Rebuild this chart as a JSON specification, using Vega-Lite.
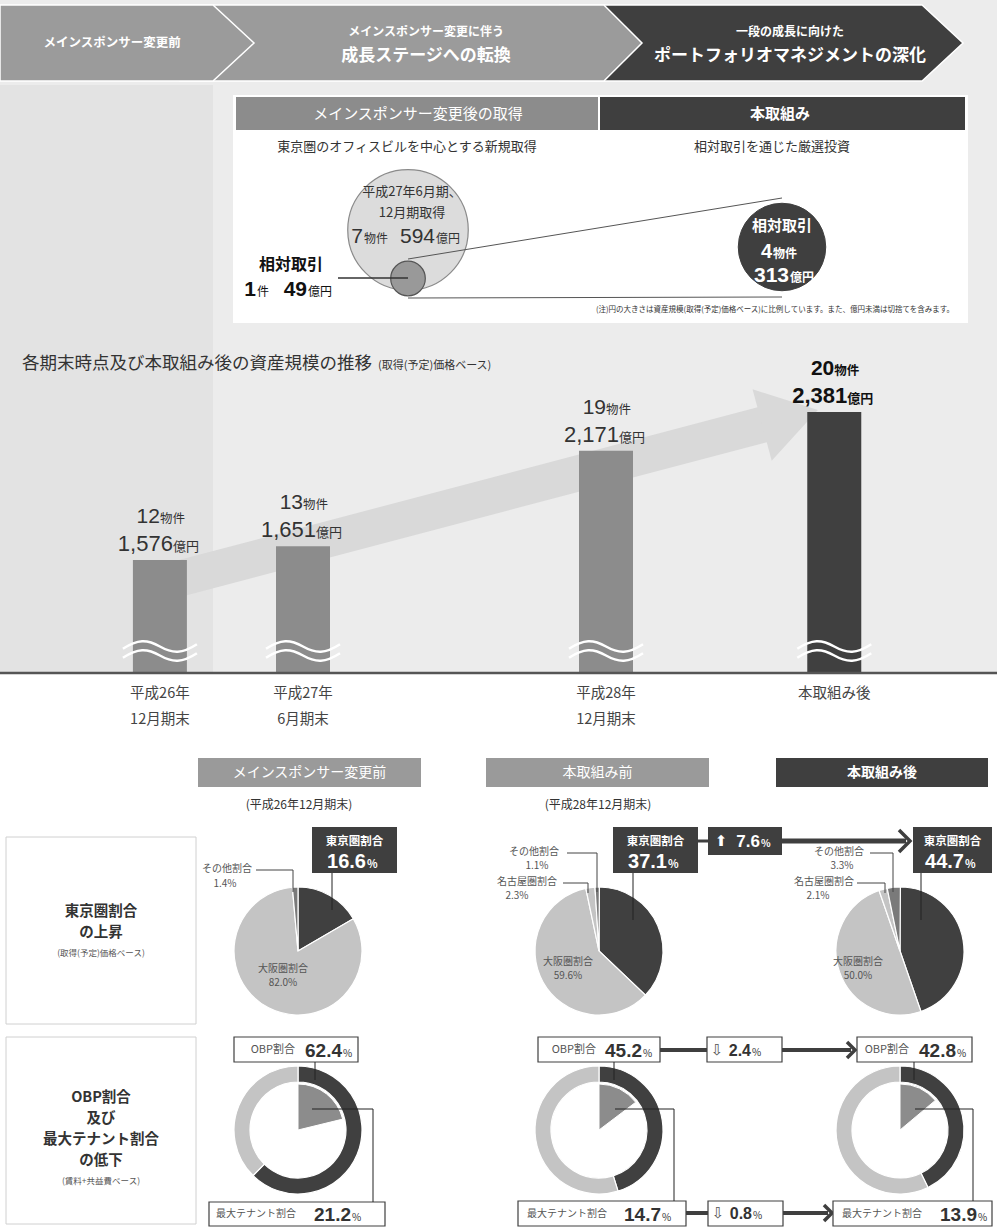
{
"$schema":"https://vega.github.io/schema/vega-lite/v6.json",
"width":997,"height":1227,"padding":0,"autosize":{"type":"none"},
"background":"#ffffff",
"config":{"view":{"stroke":null},"axis":{"disable":true},"legend":{"disable":true},"text":{"font":"Noto Sans CJK JP"}},
"datasets":{
 "bars":[
  {"period":"平成26年12月期末","label1":"平成26年","label2":"12月期末","months":0,"count":12,"value":1576,"kind":"実績"},
  {"period":"平成27年6月期末","label1":"平成27年","label2":"6月期末","months":6,"count":13,"value":1651,"kind":"実績"},
  {"period":"平成28年12月期末","label1":"平成28年","label2":"12月期末","months":24,"count":19,"value":2171,"kind":"実績"},
  {"period":"本取組み後","label1":"本取組み後","label2":"","months":28,"count":20,"value":2381,"kind":"本取組み後"}
 ],
 "acq":[
  {"deal":"平成27年6月期・12月期取得","count":7,"value":594},
  {"deal":"相対取引(取得済)","count":1,"value":49},
  {"deal":"相対取引(本取組み)","count":4,"value":313}
 ],
 "pies":[
  {"stage":"メインスポンサー変更前","region":"東京圏","share":0.166,"order":1},
  {"stage":"メインスポンサー変更前","region":"大阪圏","share":0.820,"order":2},
  {"stage":"メインスポンサー変更前","region":"その他","share":0.014,"order":4},
  {"stage":"本取組み前","region":"東京圏","share":0.371,"order":1},
  {"stage":"本取組み前","region":"大阪圏","share":0.596,"order":2},
  {"stage":"本取組み前","region":"名古屋圏","share":0.023,"order":3},
  {"stage":"本取組み前","region":"その他","share":0.011,"order":4},
  {"stage":"本取組み後","region":"東京圏","share":0.447,"order":1},
  {"stage":"本取組み後","region":"大阪圏","share":0.500,"order":2},
  {"stage":"本取組み後","region":"名古屋圏","share":0.021,"order":3},
  {"stage":"本取組み後","region":"その他","share":0.033,"order":4}
 ],
 "obp":[
  {"stage":"メインスポンサー変更前","part":"OBP","share":0.624,"order":1},
  {"stage":"メインスポンサー変更前","part":"OBP以外","share":0.376,"order":2},
  {"stage":"本取組み前","part":"OBP","share":0.452,"order":1},
  {"stage":"本取組み前","part":"OBP以外","share":0.548,"order":2},
  {"stage":"本取組み後","part":"OBP","share":0.428,"order":1},
  {"stage":"本取組み後","part":"OBP以外","share":0.572,"order":2}
 ],
 "tenant":[
  {"stage":"メインスポンサー変更前","share":0.212},
  {"stage":"本取組み前","share":0.147},
  {"stage":"本取組み後","share":0.139}
 ]
},
"data":{"values":[{}]},
"resolve":{"scale":{"x":"independent","y":"independent","color":"independent","size":"independent","theta":"independent"}},
"layer":[
 {"layer":[
  {"mark":{"type":"rect","fill":"#ececec"},"encoding":{"x":{"datum":0,"type":"quantitative","scale":{"domain":[0,997],"nice":false,"zero":false},"axis":null},"x2":{"datum":997},"y":{"datum":0,"type":"quantitative","scale":{"domain":[0,1227],"reverse":true,"nice":false,"zero":false},"axis":null},"y2":{"datum":673}}},
  {"mark":{"type":"rect","fill":"#e3e3e3"},"encoding":{"x":{"datum":0},"x2":{"datum":213},"y":{"datum":85},"y2":{"datum":673}}},
  {"mark":{"type":"point","shape":"M -1 -0.1886 L 0.797 -0.1886 L 1 0 L 0.797 0.1886 L -1 0.1886 Z","size":162409,"filled":true,"fill":"#3f3f3f","stroke":"#ffffff","strokeWidth":1.5,"opacity":1},"encoding":{"x":{"datum":761.5},"y":{"datum":43}}},
  {"mark":{"type":"point","shape":"M -1 -0.1645 L 0.835 -0.1645 L 1 0 L 0.835 0.1645 L -1 0.1645 Z","size":213444,"filled":true,"fill":"#9b9b9b","stroke":"#ffffff","strokeWidth":1.5,"opacity":1},"encoding":{"x":{"datum":411},"y":{"datum":43}}},
  {"mark":{"type":"point","shape":"M -1 -0.2992 L 0.677 -0.2992 L 1 0 L 0.677 0.2992 L -1 0.2992 Z","size":64516,"filled":true,"fill":"#9b9b9b","stroke":"#ffffff","strokeWidth":1.5,"opacity":1},"encoding":{"x":{"datum":127},"y":{"datum":43}}},
  {"mark":{"type":"text","fontSize":12.5,"fontWeight":"bold","fill":"#ffffff"},"encoding":{"x":{"datum":112},"y":{"datum":43},"text":{"value":"メインスポンサー変更前"}}},
  {"mark":{"type":"text","fontSize":12,"fontWeight":"bold","fill":"#ffffff"},"encoding":{"x":{"datum":426},"y":{"datum":32},"text":{"value":"メインスポンサー変更に伴う"}}},
  {"mark":{"type":"text","fontSize":17,"fontWeight":"bold","fill":"#ffffff"},"encoding":{"x":{"datum":426},"y":{"datum":56},"text":{"value":"成長ステージへの転換"}}},
  {"mark":{"type":"text","fontSize":12,"fontWeight":"bold","fill":"#ffffff"},"encoding":{"x":{"datum":790},"y":{"datum":32},"text":{"value":"一段の成長に向けた"}}},
  {"mark":{"type":"text","fontSize":17,"fontWeight":"bold","fill":"#ffffff"},"encoding":{"x":{"datum":790},"y":{"datum":56},"text":{"value":"ポートフォリオマネジメントの深化"}}},
  {"mark":{"type":"rect","fill":"#ffffff"},"encoding":{"x":{"datum":233},"x2":{"datum":968},"y":{"datum":95},"y2":{"datum":323}}},
  {"mark":{"type":"rect","fill":"#8c8c8c"},"encoding":{"x":{"datum":236},"x2":{"datum":598},"y":{"datum":97},"y2":{"datum":130}}},
  {"mark":{"type":"rect","fill":"#3f3f3f"},"encoding":{"x":{"datum":600},"x2":{"datum":965},"y":{"datum":97},"y2":{"datum":130}}},
  {"mark":{"type":"text","fontSize":15,"fill":"#ffffff"},"encoding":{"x":{"datum":418},"y":{"datum":114},"text":{"value":"メインスポンサー変更後の取得"}}},
  {"mark":{"type":"text","fontSize":15,"fontWeight":"bold","fill":"#ffffff"},"encoding":{"x":{"datum":780},"y":{"datum":114},"text":{"value":"本取組み"}}},
  {"mark":{"type":"text","fontSize":13,"fill":"#333333"},"encoding":{"x":{"datum":407},"y":{"datum":147},"text":{"value":"東京圏のオフィスビルを中心とする新規取得"}}},
  {"mark":{"type":"text","fontSize":13,"fill":"#333333"},"encoding":{"x":{"datum":772},"y":{"datum":147},"text":{"value":"相対取引を通じた厳選投資"}}},
  {"data":{"name":"acq"},"transform":[{"filter":"datum.deal === '平成27年6月期・12月期取得'"}],"mark":{"type":"point","shape":"circle","filled":true,"fill":"#dcdcdc","stroke":"#8a8a8a","strokeWidth":1.2,"opacity":1},"encoding":{"x":{"datum":408},"y":{"datum":230},"size":{"field":"value","type":"quantitative","scale":{"domain":[0,594],"range":[0,14527]},"legend":null}}},
  {"mark":{"type":"rule","stroke":"#555555","strokeWidth":1},"encoding":{"x":{"datum":408},"x2":{"datum":782},"y":{"datum":259},"y2":{"datum":198}}},
  {"mark":{"type":"rule","stroke":"#555555","strokeWidth":1},"encoding":{"x":{"datum":408},"x2":{"datum":782},"y":{"datum":298},"y2":{"datum":297}}},
  {"data":{"name":"acq"},"transform":[{"filter":"datum.deal === '相対取引(取得済)'"}],"mark":{"type":"point","shape":"circle","filled":true,"fill":"#999999","stroke":"#555555","strokeWidth":1.2,"opacity":1},"encoding":{"x":{"datum":408},"y":{"datum":278.5},"size":{"field":"value","type":"quantitative","scale":{"domain":[0,594],"range":[0,14527]},"legend":null}}},
  {"data":{"name":"acq"},"transform":[{"filter":"datum.deal === '相対取引(本取組み)'"}],"mark":{"type":"point","shape":"circle","filled":true,"fill":"#3f3f3f","stroke":"#3f3f3f","strokeWidth":1,"opacity":1},"encoding":{"x":{"datum":782},"y":{"datum":247},"size":{"field":"value","type":"quantitative","scale":{"domain":[0,594],"range":[0,14527]},"legend":null}}},
  {"mark":{"type":"rule","stroke":"#333333","strokeWidth":1.5},"encoding":{"x":{"datum":338},"x2":{"datum":408},"y":{"datum":278},"y2":{"datum":278}}},
  {"mark":{"type":"text","fontSize":13,"fill":"#333333"},"encoding":{"x":{"datum":412},"y":{"datum":192},"text":{"value":"平成27年6月期、"}}},
  {"mark":{"type":"text","fontSize":13,"fill":"#333333"},"encoding":{"x":{"datum":412},"y":{"datum":213},"text":{"value":"12月期取得"}}},
  {"mark":{"type":"text","fontSize":21,"fill":"#333333","align":"right","baseline":"alphabetic","font":"Liberation Sans, Noto Sans CJK JP"},"encoding":{"x":{"datum":363},"y":{"datum":243},"text":{"value":"7"}}},
  {"mark":{"type":"text","fontSize":12,"fill":"#333333","align":"left","baseline":"alphabetic"},"encoding":{"x":{"datum":364},"y":{"datum":243},"text":{"value":"物件"}}},
  {"mark":{"type":"text","fontSize":21,"fill":"#333333","align":"right","baseline":"alphabetic","font":"Liberation Sans, Noto Sans CJK JP"},"encoding":{"x":{"datum":435},"y":{"datum":243},"text":{"value":"594"}}},
  {"mark":{"type":"text","fontSize":12,"fill":"#333333","align":"left","baseline":"alphabetic"},"encoding":{"x":{"datum":436},"y":{"datum":243},"text":{"value":"億円"}}},
  {"mark":{"type":"text","fontSize":16,"fontWeight":"bold","fill":"#111111"},"encoding":{"x":{"datum":291},"y":{"datum":265},"text":{"value":"相対取引"}}},
  {"mark":{"type":"text","fontSize":21,"fontWeight":"bold","fill":"#111111","align":"right","baseline":"alphabetic","font":"Liberation Sans, Noto Sans CJK JP"},"encoding":{"x":{"datum":256},"y":{"datum":296},"text":{"value":"1"}}},
  {"mark":{"type":"text","fontSize":12,"fill":"#111111","align":"left","baseline":"alphabetic"},"encoding":{"x":{"datum":257},"y":{"datum":296},"text":{"value":"件"}}},
  {"mark":{"type":"text","fontSize":21,"fontWeight":"bold","fill":"#111111","align":"right","baseline":"alphabetic","font":"Liberation Sans, Noto Sans CJK JP"},"encoding":{"x":{"datum":307},"y":{"datum":296},"text":{"value":"49"}}},
  {"mark":{"type":"text","fontSize":12,"fill":"#111111","align":"left","baseline":"alphabetic"},"encoding":{"x":{"datum":308},"y":{"datum":296},"text":{"value":"億円"}}},
  {"mark":{"type":"text","fontSize":15,"fontWeight":"bold","fill":"#ffffff"},"encoding":{"x":{"datum":782},"y":{"datum":226},"text":{"value":"相対取引"}}},
  {"mark":{"type":"text","fontSize":20,"fontWeight":"bold","fill":"#ffffff","align":"right","baseline":"alphabetic","font":"Liberation Sans, Noto Sans CJK JP"},"encoding":{"x":{"datum":772},"y":{"datum":258},"text":{"value":"4"}}},
  {"mark":{"type":"text","fontSize":12,"fontWeight":"bold","fill":"#ffffff","align":"left","baseline":"alphabetic"},"encoding":{"x":{"datum":773},"y":{"datum":258},"text":{"value":"物件"}}},
  {"mark":{"type":"text","fontSize":21,"fontWeight":"bold","fill":"#ffffff","align":"right","baseline":"alphabetic","font":"Liberation Sans, Noto Sans CJK JP"},"encoding":{"x":{"datum":789},"y":{"datum":282},"text":{"value":"313"}}},
  {"mark":{"type":"text","fontSize":12,"fontWeight":"bold","fill":"#ffffff","align":"left","baseline":"alphabetic"},"encoding":{"x":{"datum":790},"y":{"datum":282},"text":{"value":"億円"}}},
  {"mark":{"type":"text","fontSize":7.5,"fill":"#333333","align":"right"},"encoding":{"x":{"datum":954},"y":{"datum":310},"text":{"value":"(注)円の大きさは資産規模(取得(予定)価格ベース)に比例しています。また、億円未満は切捨てを含みます。"}}},
  {"mark":{"type":"text","fontSize":17.5,"fill":"#333333","align":"left"},"encoding":{"x":{"datum":22},"y":{"datum":364},"text":{"value":"各期末時点及び本取組み後の資産規模の推移"}}},
  {"mark":{"type":"text","fontSize":11,"fill":"#333333","align":"left"},"encoding":{"x":{"datum":378},"y":{"datum":366},"text":{"value":"(取得(予定)価格ベース)"}}},
  {"mark":{"type":"rule","stroke":"#d9d9d9","strokeWidth":36},"encoding":{"x":{"datum":170},"x2":{"datum":765},"y":{"datum":581},"y2":{"datum":424}}},
  {"mark":{"type":"point","shape":"M -0.78 -1 L 0.78 0 L -0.78 1 Z","size":5476,"angle":-15,"filled":true,"fill":"#d9d9d9","strokeWidth":0,"opacity":1},"encoding":{"x":{"datum":790},"y":{"datum":417.5}}}
 ]},
 {"data":{"name":"bars"},"layer":[
  {"mark":{"type":"bar","width":54},"encoding":{
    "x":{"field":"months","type":"quantitative","scale":{"domain":[0,6,24,28],"range":[155,303,606,846],"nice":false,"zero":false},"axis":null},
    "y":{"field":"value","type":"quantitative","scale":{"domain":[-2050.5,4621.6],"nice":false,"zero":false},"axis":null},
    "y2":{"datum":962},
    "color":{"field":"kind","type":"nominal","scale":{"domain":["実績","本取組み後"],"range":["#8c8c8c","#404040"]},"legend":null}}},
  {"mark":{"type":"point","shape":"M -1 0.06 C -0.6 -0.2 -0.35 -0.2 0 0 C 0.35 0.2 0.6 0.2 1 -0.06","size":5476,"filled":false,"stroke":"#ffffff","strokeWidth":2.5,"opacity":1},"encoding":{"x":{"field":"months","type":"quantitative"},"y":{"datum":1106}}},
  {"mark":{"type":"point","shape":"M -1 0.06 C -0.6 -0.2 -0.35 -0.2 0 0 C 0.35 0.2 0.6 0.2 1 -0.06","size":5476,"filled":false,"stroke":"#ffffff","strokeWidth":2.5,"opacity":1},"encoding":{"x":{"field":"months","type":"quantitative"},"y":{"datum":1057}}},
  {"transform":[{"filter":"datum.kind === '実績'"}],"mark":{"type":"text","align":"right","baseline":"alphabetic","dx":0,"dy":-37,"fontSize":21,"fill":"#333333","font":"Liberation Sans, Noto Sans CJK JP"},"encoding":{"x":{"field":"months","type":"quantitative"},"y":{"field":"value","type":"quantitative"},"text":{"field":"count","type":"quantitative"}}},
  {"transform":[{"filter":"datum.kind === '実績'"}],"mark":{"type":"text","align":"left","baseline":"alphabetic","dx":0,"dy":-37,"fontSize":12.5,"fill":"#333333"},"encoding":{"x":{"field":"months","type":"quantitative"},"y":{"field":"value","type":"quantitative"},"text":{"value":"物件"}}},
  {"transform":[{"filter":"datum.kind === '実績'"}],"mark":{"type":"text","align":"right","baseline":"alphabetic","dx":13,"dy":-9,"fontSize":22,"fill":"#333333","font":"Liberation Sans, Noto Sans CJK JP"},"encoding":{"x":{"field":"months","type":"quantitative"},"y":{"field":"value","type":"quantitative"},"text":{"field":"value","type":"quantitative","format":","}}},
  {"transform":[{"filter":"datum.kind === '実績'"}],"mark":{"type":"text","align":"left","baseline":"alphabetic","dx":13,"dy":-9,"fontSize":13,"fill":"#333333"},"encoding":{"x":{"field":"months","type":"quantitative"},"y":{"field":"value","type":"quantitative"},"text":{"value":"億円"}}},
  {"transform":[{"filter":"datum.kind === '本取組み後'"}],"mark":{"type":"text","align":"right","baseline":"alphabetic","dx":0,"dy":-37,"fontSize":21,"fontWeight":"bold","fill":"#111111","font":"Liberation Sans, Noto Sans CJK JP"},"encoding":{"x":{"field":"months","type":"quantitative"},"y":{"field":"value","type":"quantitative"},"text":{"field":"count","type":"quantitative"}}},
  {"transform":[{"filter":"datum.kind === '本取組み後'"}],"mark":{"type":"text","align":"left","baseline":"alphabetic","dx":0,"dy":-37,"fontSize":12.5,"fontWeight":"bold","fill":"#111111"},"encoding":{"x":{"field":"months","type":"quantitative"},"y":{"field":"value","type":"quantitative"},"text":{"value":"物件"}}},
  {"transform":[{"filter":"datum.kind === '本取組み後'"}],"mark":{"type":"text","align":"right","baseline":"alphabetic","dx":13,"dy":-9,"fontSize":22,"fontWeight":"bold","fill":"#111111","font":"Liberation Sans, Noto Sans CJK JP"},"encoding":{"x":{"field":"months","type":"quantitative"},"y":{"field":"value","type":"quantitative"},"text":{"field":"value","type":"quantitative","format":","}}},
  {"transform":[{"filter":"datum.kind === '本取組み後'"}],"mark":{"type":"text","align":"left","baseline":"alphabetic","dx":13,"dy":-9,"fontSize":13,"fontWeight":"bold","fill":"#111111"},"encoding":{"x":{"field":"months","type":"quantitative"},"y":{"field":"value","type":"quantitative"},"text":{"value":"億円"}}},
  {"mark":{"type":"text","dy":21,"fontSize":14.5,"fill":"#444444"},"encoding":{"x":{"field":"months","type":"quantitative"},"y":{"datum":962},"text":{"field":"label1"}}},
  {"mark":{"type":"text","dy":47,"fontSize":14.5,"fill":"#444444"},"encoding":{"x":{"field":"months","type":"quantitative"},"y":{"datum":962},"text":{"field":"label2"}}}
 ]},
 {"layer":[
  {"data":{"name":"pies"},"transform":[{"stack":"share","groupby":["stage"],"sort":[{"field":"order"}],"as":["t0","t1"]}],"mark":{"type":"arc","radius":64,"stroke":"#ffffff","strokeWidth":1.2},"encoding":{
    "x":{"field":"stage","type":"nominal","scale":{"type":"point","domain":["メインスポンサー変更前","本取組み前","本取組み後"],"range":[298,900],"padding":0},"axis":null},
    "y":{"datum":951,"type":"quantitative","scale":{"domain":[0,1227],"reverse":true,"nice":false,"zero":false},"axis":null},
    "theta":{"field":"t0","type":"quantitative","scale":{"domain":[0,1],"range":[0,6.283185]}},
    "theta2":{"field":"t1"},
    "color":{"field":"region","type":"nominal","scale":{"domain":["東京圏","大阪圏","名古屋圏","その他","OBP","OBP以外"],"range":["#404040","#c4c4c4","#c4c4c4","#7a7a7a","#404040","#c4c4c4"]},"legend":null}}},
  {"data":{"name":"obp"},"transform":[{"stack":"share","groupby":["stage"],"sort":[{"field":"order"}],"as":["t0","t1"]}],"mark":{"type":"arc","radius":64,"innerRadius":48,"stroke":"#ffffff","strokeWidth":1.2},"encoding":{
    "x":{"field":"stage","type":"nominal","scale":{"type":"point","domain":["メインスポンサー変更前","本取組み前","本取組み後"],"range":[298,900],"padding":0},"axis":null},
    "y":{"datum":1130,"type":"quantitative"},
    "theta":{"field":"t0","type":"quantitative","scale":{"domain":[0,1],"range":[0,6.283185]}},
    "theta2":{"field":"t1"},
    "color":{"field":"part","type":"nominal","scale":{"domain":["東京圏","大阪圏","名古屋圏","その他","OBP","OBP以外"],"range":["#404040","#c4c4c4","#c4c4c4","#7a7a7a","#404040","#c4c4c4"]},"legend":null}}},
  {"data":{"name":"tenant"},"transform":[{"stack":"share","groupby":["stage"],"as":["t0","t1"]}],"mark":{"type":"arc","radius":46,"fill":"#8c8c8c","stroke":"#ffffff","strokeWidth":1},"encoding":{
    "x":{"field":"stage","type":"nominal","scale":{"type":"point","domain":["メインスポンサー変更前","本取組み前","本取組み後"],"range":[298,900],"padding":0},"axis":null},
    "y":{"datum":1130,"type":"quantitative"},
    "theta":{"field":"t0","type":"quantitative","scale":{"domain":[0,1],"range":[0,6.283185]}},
    "theta2":{"field":"t1"}}}
 ]},
 {"layer":[
  {"mark":{"type":"rule","stroke":"#555555","strokeWidth":2.5},"encoding":{"x":{"datum":0,"type":"quantitative","scale":{"domain":[0,997],"nice":false,"zero":false},"axis":null},"x2":{"datum":997},"y":{"datum":673,"type":"quantitative","scale":{"domain":[0,1227],"reverse":true,"nice":false,"zero":false},"axis":null},"y2":{"datum":673}}},
  {"mark":{"type":"rect","fill":"#9a9a9a"},"encoding":{"x":{"datum":198},"x2":{"datum":421},"y":{"datum":758},"y2":{"datum":787}}},
  {"mark":{"type":"rect","fill":"#9a9a9a"},"encoding":{"x":{"datum":486},"x2":{"datum":709},"y":{"datum":758},"y2":{"datum":787}}},
  {"mark":{"type":"rect","fill":"#3f3f3f"},"encoding":{"x":{"datum":776},"x2":{"datum":988},"y":{"datum":758},"y2":{"datum":787}}},
  {"mark":{"type":"text","fontSize":14,"fill":"#ffffff"},"encoding":{"x":{"datum":309.5},"y":{"datum":773},"text":{"value":"メインスポンサー変更前"}}},
  {"mark":{"type":"text","fontSize":14,"fill":"#ffffff"},"encoding":{"x":{"datum":597.5},"y":{"datum":773},"text":{"value":"本取組み前"}}},
  {"mark":{"type":"text","fontSize":14,"fontWeight":"bold","fill":"#ffffff"},"encoding":{"x":{"datum":882},"y":{"datum":773},"text":{"value":"本取組み後"}}},
  {"mark":{"type":"text","fontSize":12,"fill":"#333333"},"encoding":{"x":{"datum":299},"y":{"datum":805},"text":{"value":"(平成26年12月期末)"}}},
  {"mark":{"type":"text","fontSize":12,"fill":"#333333"},"encoding":{"x":{"datum":598},"y":{"datum":805},"text":{"value":"(平成28年12月期末)"}}},
  {"mark":{"type":"rect","fill":"#ffffff","stroke":"#d0d0d0","strokeWidth":1},"encoding":{"x":{"datum":6},"x2":{"datum":196},"y":{"datum":837},"y2":{"datum":1024}}},
  {"mark":{"type":"rect","fill":"#ffffff","stroke":"#d0d0d0","strokeWidth":1},"encoding":{"x":{"datum":6},"x2":{"datum":196},"y":{"datum":1037},"y2":{"datum":1224}}},
  {"mark":{"type":"text","fontSize":14.5,"fontWeight":"bold","fill":"#333333"},"encoding":{"x":{"datum":101},"y":{"datum":912},"text":{"value":"東京圏割合"}}},
  {"mark":{"type":"text","fontSize":14.5,"fontWeight":"bold","fill":"#333333"},"encoding":{"x":{"datum":101},"y":{"datum":933},"text":{"value":"の上昇"}}},
  {"mark":{"type":"text","fontSize":8.5,"fill":"#555555"},"encoding":{"x":{"datum":101},"y":{"datum":953},"text":{"value":"(取得(予定)価格ベース)"}}},
  {"mark":{"type":"text","fontSize":14.5,"fontWeight":"bold","fill":"#333333"},"encoding":{"x":{"datum":101},"y":{"datum":1098},"text":{"value":"OBP割合"}}},
  {"mark":{"type":"text","fontSize":14.5,"fontWeight":"bold","fill":"#333333"},"encoding":{"x":{"datum":101},"y":{"datum":1119},"text":{"value":"及び"}}},
  {"mark":{"type":"text","fontSize":14.5,"fontWeight":"bold","fill":"#333333"},"encoding":{"x":{"datum":101},"y":{"datum":1140},"text":{"value":"最大テナント割合"}}},
  {"mark":{"type":"text","fontSize":14.5,"fontWeight":"bold","fill":"#333333"},"encoding":{"x":{"datum":101},"y":{"datum":1161},"text":{"value":"の低下"}}},
  {"mark":{"type":"text","fontSize":8.5,"fill":"#555555"},"encoding":{"x":{"datum":101},"y":{"datum":1181},"text":{"value":"(賃料+共益費ベース)"}}},
  {"mark":{"type":"rect","fill":"#3f3f3f"},"encoding":{"x":{"datum":312},"x2":{"datum":397},"y":{"datum":827},"y2":{"datum":873}}},
  {"mark":{"type":"rect","fill":"#3f3f3f"},"encoding":{"x":{"datum":613},"x2":{"datum":698},"y":{"datum":827},"y2":{"datum":873}}},
  {"mark":{"type":"rect","fill":"#3f3f3f"},"encoding":{"x":{"datum":913},"x2":{"datum":992},"y":{"datum":827},"y2":{"datum":873}}},
  {"mark":{"type":"text","fontSize":11.5,"fontWeight":"bold","fill":"#ffffff"},"encoding":{"x":{"datum":354.5},"y":{"datum":842},"text":{"value":"東京圏割合"}}},
  {"mark":{"type":"text","fontSize":11.5,"fontWeight":"bold","fill":"#ffffff"},"encoding":{"x":{"datum":655.5},"y":{"datum":842},"text":{"value":"東京圏割合"}}},
  {"mark":{"type":"text","fontSize":11.5,"fontWeight":"bold","fill":"#ffffff"},"encoding":{"x":{"datum":952.5},"y":{"datum":842},"text":{"value":"東京圏割合"}}},
  {"mark":{"type":"text","fontSize":20,"fontWeight":"bold","fill":"#ffffff","align":"right","baseline":"alphabetic","font":"Liberation Sans, Noto Sans CJK JP"},"encoding":{"x":{"datum":366},"y":{"datum":868},"text":{"value":"16.6"}}},
  {"mark":{"type":"text","fontSize":11,"fontWeight":"bold","fill":"#ffffff","align":"left","baseline":"alphabetic"},"encoding":{"x":{"datum":367},"y":{"datum":868},"text":{"value":"%"}}},
  {"mark":{"type":"text","fontSize":20,"fontWeight":"bold","fill":"#ffffff","align":"right","baseline":"alphabetic","font":"Liberation Sans, Noto Sans CJK JP"},"encoding":{"x":{"datum":667},"y":{"datum":868},"text":{"value":"37.1"}}},
  {"mark":{"type":"text","fontSize":11,"fontWeight":"bold","fill":"#ffffff","align":"left","baseline":"alphabetic"},"encoding":{"x":{"datum":668},"y":{"datum":868},"text":{"value":"%"}}},
  {"mark":{"type":"text","fontSize":20,"fontWeight":"bold","fill":"#ffffff","align":"right","baseline":"alphabetic","font":"Liberation Sans, Noto Sans CJK JP"},"encoding":{"x":{"datum":964},"y":{"datum":868},"text":{"value":"44.7"}}},
  {"mark":{"type":"text","fontSize":11,"fontWeight":"bold","fill":"#ffffff","align":"left","baseline":"alphabetic"},"encoding":{"x":{"datum":965},"y":{"datum":868},"text":{"value":"%"}}},
  {"mark":{"type":"rule","stroke":"#222222","strokeWidth":1},"encoding":{"x":{"datum":332},"x2":{"datum":332},"y":{"datum":873},"y2":{"datum":910}}},
  {"mark":{"type":"rule","stroke":"#222222","strokeWidth":1},"encoding":{"x":{"datum":633},"x2":{"datum":633},"y":{"datum":873},"y2":{"datum":920}}},
  {"mark":{"type":"rule","stroke":"#222222","strokeWidth":1},"encoding":{"x":{"datum":921},"x2":{"datum":921},"y":{"datum":873},"y2":{"datum":920}}},
  {"mark":{"type":"text","fontSize":10,"fill":"#555555"},"encoding":{"x":{"datum":227},"y":{"datum":869},"text":{"value":"その他割合"}}},
  {"mark":{"type":"text","fontSize":10,"fill":"#555555"},"encoding":{"x":{"datum":225},"y":{"datum":884},"text":{"value":"1.4%"}}},
  {"mark":{"type":"rule","stroke":"#444444","strokeWidth":1},"encoding":{"x":{"datum":256},"x2":{"datum":293},"y":{"datum":870},"y2":{"datum":870}}},
  {"mark":{"type":"rule","stroke":"#444444","strokeWidth":1},"encoding":{"x":{"datum":293},"x2":{"datum":293},"y":{"datum":870},"y2":{"datum":892}}},
  {"mark":{"type":"text","fontSize":10,"fill":"#555555"},"encoding":{"x":{"datum":534},"y":{"datum":852},"text":{"value":"その他割合"}}},
  {"mark":{"type":"text","fontSize":10,"fill":"#555555"},"encoding":{"x":{"datum":537},"y":{"datum":866},"text":{"value":"1.1%"}}},
  {"mark":{"type":"rule","stroke":"#444444","strokeWidth":1},"encoding":{"x":{"datum":567},"x2":{"datum":597},"y":{"datum":853},"y2":{"datum":853}}},
  {"mark":{"type":"rule","stroke":"#444444","strokeWidth":1},"encoding":{"x":{"datum":597},"x2":{"datum":597},"y":{"datum":853},"y2":{"datum":892}}},
  {"mark":{"type":"text","fontSize":10,"fill":"#555555"},"encoding":{"x":{"datum":527},"y":{"datum":882},"text":{"value":"名古屋圏割合"}}},
  {"mark":{"type":"text","fontSize":10,"fill":"#555555"},"encoding":{"x":{"datum":517},"y":{"datum":896},"text":{"value":"2.3%"}}},
  {"mark":{"type":"rule","stroke":"#444444","strokeWidth":1},"encoding":{"x":{"datum":563},"x2":{"datum":588},"y":{"datum":883},"y2":{"datum":883}}},
  {"mark":{"type":"rule","stroke":"#444444","strokeWidth":1},"encoding":{"x":{"datum":588},"x2":{"datum":588},"y":{"datum":883},"y2":{"datum":893}}},
  {"mark":{"type":"text","fontSize":10,"fill":"#555555"},"encoding":{"x":{"datum":839},"y":{"datum":852},"text":{"value":"その他割合"}}},
  {"mark":{"type":"text","fontSize":10,"fill":"#555555"},"encoding":{"x":{"datum":842},"y":{"datum":866},"text":{"value":"3.3%"}}},
  {"mark":{"type":"rule","stroke":"#444444","strokeWidth":1},"encoding":{"x":{"datum":870},"x2":{"datum":893},"y":{"datum":853},"y2":{"datum":853}}},
  {"mark":{"type":"rule","stroke":"#444444","strokeWidth":1},"encoding":{"x":{"datum":893},"x2":{"datum":893},"y":{"datum":853},"y2":{"datum":892}}},
  {"mark":{"type":"text","fontSize":10,"fill":"#555555"},"encoding":{"x":{"datum":824},"y":{"datum":882},"text":{"value":"名古屋圏割合"}}},
  {"mark":{"type":"text","fontSize":10,"fill":"#555555"},"encoding":{"x":{"datum":818},"y":{"datum":896},"text":{"value":"2.1%"}}},
  {"mark":{"type":"rule","stroke":"#444444","strokeWidth":1},"encoding":{"x":{"datum":857},"x2":{"datum":885},"y":{"datum":883},"y2":{"datum":883}}},
  {"mark":{"type":"rule","stroke":"#444444","strokeWidth":1},"encoding":{"x":{"datum":885},"x2":{"datum":885},"y":{"datum":883},"y2":{"datum":893}}},
  {"mark":{"type":"text","fontSize":10,"fill":"#555555"},"encoding":{"x":{"datum":283},"y":{"datum":969},"text":{"value":"大阪圏割合"}}},
  {"mark":{"type":"text","fontSize":10,"fill":"#555555"},"encoding":{"x":{"datum":283},"y":{"datum":983},"text":{"value":"82.0%"}}},
  {"mark":{"type":"text","fontSize":10,"fill":"#555555"},"encoding":{"x":{"datum":568},"y":{"datum":962},"text":{"value":"大阪圏割合"}}},
  {"mark":{"type":"text","fontSize":10,"fill":"#555555"},"encoding":{"x":{"datum":568},"y":{"datum":976},"text":{"value":"59.6%"}}},
  {"mark":{"type":"text","fontSize":10,"fill":"#555555"},"encoding":{"x":{"datum":858},"y":{"datum":962},"text":{"value":"大阪圏割合"}}},
  {"mark":{"type":"text","fontSize":10,"fill":"#555555"},"encoding":{"x":{"datum":858},"y":{"datum":976},"text":{"value":"50.0%"}}},
  {"mark":{"type":"rule","stroke":"#3f3f3f","strokeWidth":3},"encoding":{"x":{"datum":698},"x2":{"datum":708},"y":{"datum":841},"y2":{"datum":841}}},
  {"mark":{"type":"rect","fill":"#3f3f3f"},"encoding":{"x":{"datum":708},"x2":{"datum":782},"y":{"datum":827},"y2":{"datum":855}}},
  {"mark":{"type":"text","fontSize":15,"fill":"#ffffff","font":"DejaVu Sans"},"encoding":{"x":{"datum":721},"y":{"datum":841},"text":{"value":"⬆"}}},
  {"mark":{"type":"text","fontSize":17,"fontWeight":"bold","fill":"#ffffff","align":"right","baseline":"alphabetic","font":"Liberation Sans, Noto Sans CJK JP"},"encoding":{"x":{"datum":760},"y":{"datum":847},"text":{"value":"7.6"}}},
  {"mark":{"type":"text","fontSize":10,"fontWeight":"bold","fill":"#ffffff","align":"left","baseline":"alphabetic"},"encoding":{"x":{"datum":761},"y":{"datum":847},"text":{"value":"%"}}},
  {"mark":{"type":"rule","stroke":"#3f3f3f","strokeWidth":5},"encoding":{"x":{"datum":782},"x2":{"datum":906},"y":{"datum":841},"y2":{"datum":841}}},
  {"mark":{"type":"point","shape":"M -1 -1 L 0 0 L -1 1","size":484,"filled":false,"stroke":"#3f3f3f","strokeWidth":3.5,"opacity":1},"encoding":{"x":{"datum":910},"y":{"datum":841}}},
  {"mark":{"type":"rule","stroke":"#3f3f3f","strokeWidth":4},"encoding":{"x":{"datum":660},"x2":{"datum":707},"y":{"datum":1050},"y2":{"datum":1050}}},
  {"mark":{"type":"rule","stroke":"#3f3f3f","strokeWidth":4},"encoding":{"x":{"datum":782},"x2":{"datum":851},"y":{"datum":1050},"y2":{"datum":1050}}},
  {"mark":{"type":"point","shape":"M -1 -1 L 0 0 L -1 1","size":256,"filled":false,"stroke":"#3f3f3f","strokeWidth":3.5,"opacity":1},"encoding":{"x":{"datum":855},"y":{"datum":1050}}},
  {"mark":{"type":"rule","stroke":"#3f3f3f","strokeWidth":4},"encoding":{"x":{"datum":686},"x2":{"datum":708},"y":{"datum":1213},"y2":{"datum":1213}}},
  {"mark":{"type":"rule","stroke":"#3f3f3f","strokeWidth":4},"encoding":{"x":{"datum":783},"x2":{"datum":828},"y":{"datum":1213},"y2":{"datum":1213}}},
  {"mark":{"type":"point","shape":"M -1 -1 L 0 0 L -1 1","size":256,"filled":false,"stroke":"#3f3f3f","strokeWidth":3.5,"opacity":1},"encoding":{"x":{"datum":832},"y":{"datum":1213}}},
  {"mark":{"type":"rect","fill":"#ffffff","stroke":"#404040","strokeWidth":1.2},"encoding":{"x":{"datum":234},"x2":{"datum":358},"y":{"datum":1037},"y2":{"datum":1062}}},
  {"mark":{"type":"rect","fill":"#ffffff","stroke":"#404040","strokeWidth":1.2},"encoding":{"x":{"datum":538},"x2":{"datum":660},"y":{"datum":1037},"y2":{"datum":1062}}},
  {"mark":{"type":"rect","fill":"#ffffff","stroke":"#404040","strokeWidth":1.2},"encoding":{"x":{"datum":707},"x2":{"datum":782},"y":{"datum":1037},"y2":{"datum":1062}}},
  {"mark":{"type":"rect","fill":"#ffffff","stroke":"#404040","strokeWidth":1.2},"encoding":{"x":{"datum":857},"x2":{"datum":972},"y":{"datum":1037},"y2":{"datum":1062}}},
  {"mark":{"type":"rect","fill":"#ffffff","stroke":"#404040","strokeWidth":1.2},"encoding":{"x":{"datum":209},"x2":{"datum":385},"y":{"datum":1202},"y2":{"datum":1226}}},
  {"mark":{"type":"rect","fill":"#ffffff","stroke":"#404040","strokeWidth":1.2},"encoding":{"x":{"datum":518},"x2":{"datum":686},"y":{"datum":1201},"y2":{"datum":1226}}},
  {"mark":{"type":"rect","fill":"#ffffff","stroke":"#404040","strokeWidth":1.2},"encoding":{"x":{"datum":708},"x2":{"datum":783},"y":{"datum":1201},"y2":{"datum":1226}}},
  {"mark":{"type":"rect","fill":"#ffffff","stroke":"#404040","strokeWidth":1.2},"encoding":{"x":{"datum":833},"x2":{"datum":992},"y":{"datum":1201},"y2":{"datum":1226}}},
  {"mark":{"type":"text","fontSize":11,"fill":"#555555","align":"right"},"encoding":{"x":{"datum":295},"y":{"datum":1050},"text":{"value":"OBP割合"}}},
  {"mark":{"type":"text","fontSize":19,"fontWeight":"bold","fill":"#333333","align":"right","baseline":"alphabetic","font":"Liberation Sans, Noto Sans CJK JP"},"encoding":{"x":{"datum":342},"y":{"datum":1057},"text":{"value":"62.4"}}},
  {"mark":{"type":"text","fontSize":10,"fill":"#333333","align":"left","baseline":"alphabetic"},"encoding":{"x":{"datum":343},"y":{"datum":1057},"text":{"value":"%"}}},
  {"mark":{"type":"text","fontSize":11,"fill":"#555555","align":"right"},"encoding":{"x":{"datum":596},"y":{"datum":1050},"text":{"value":"OBP割合"}}},
  {"mark":{"type":"text","fontSize":19,"fontWeight":"bold","fill":"#333333","align":"right","baseline":"alphabetic","font":"Liberation Sans, Noto Sans CJK JP"},"encoding":{"x":{"datum":642},"y":{"datum":1057},"text":{"value":"45.2"}}},
  {"mark":{"type":"text","fontSize":10,"fill":"#333333","align":"left","baseline":"alphabetic"},"encoding":{"x":{"datum":643},"y":{"datum":1057},"text":{"value":"%"}}},
  {"mark":{"type":"text","fontSize":11,"fill":"#555555","align":"right"},"encoding":{"x":{"datum":909},"y":{"datum":1050},"text":{"value":"OBP割合"}}},
  {"mark":{"type":"text","fontSize":19,"fontWeight":"bold","fill":"#333333","align":"right","baseline":"alphabetic","font":"Liberation Sans, Noto Sans CJK JP"},"encoding":{"x":{"datum":956},"y":{"datum":1057},"text":{"value":"42.8"}}},
  {"mark":{"type":"text","fontSize":10,"fill":"#333333","align":"left","baseline":"alphabetic"},"encoding":{"x":{"datum":957},"y":{"datum":1057},"text":{"value":"%"}}},
  {"mark":{"type":"text","fontSize":15,"fill":"#555555","font":"DejaVu Sans"},"encoding":{"x":{"datum":717},"y":{"datum":1050},"text":{"value":"⇩"}}},
  {"mark":{"type":"text","fontSize":16,"fontWeight":"bold","fill":"#333333","align":"right","baseline":"alphabetic","font":"Liberation Sans, Noto Sans CJK JP"},"encoding":{"x":{"datum":751},"y":{"datum":1056},"text":{"value":"2.4"}}},
  {"mark":{"type":"text","fontSize":10,"fill":"#333333","align":"left","baseline":"alphabetic"},"encoding":{"x":{"datum":752},"y":{"datum":1056},"text":{"value":"%"}}},
  {"mark":{"type":"text","fontSize":15,"fill":"#555555","font":"DejaVu Sans"},"encoding":{"x":{"datum":718},"y":{"datum":1213},"text":{"value":"⇩"}}},
  {"mark":{"type":"text","fontSize":16,"fontWeight":"bold","fill":"#333333","align":"right","baseline":"alphabetic","font":"Liberation Sans, Noto Sans CJK JP"},"encoding":{"x":{"datum":752},"y":{"datum":1219},"text":{"value":"0.8"}}},
  {"mark":{"type":"text","fontSize":10,"fill":"#333333","align":"left","baseline":"alphabetic"},"encoding":{"x":{"datum":753},"y":{"datum":1219},"text":{"value":"%"}}},
  {"mark":{"type":"text","fontSize":10,"fill":"#555555","align":"right"},"encoding":{"x":{"datum":296},"y":{"datum":1214},"text":{"value":"最大テナント割合"}}},
  {"mark":{"type":"text","fontSize":19,"fontWeight":"bold","fill":"#333333","align":"right","baseline":"alphabetic","font":"Liberation Sans, Noto Sans CJK JP"},"encoding":{"x":{"datum":351},"y":{"datum":1221},"text":{"value":"21.2"}}},
  {"mark":{"type":"text","fontSize":10,"fill":"#333333","align":"left","baseline":"alphabetic"},"encoding":{"x":{"datum":352},"y":{"datum":1221},"text":{"value":"%"}}},
  {"mark":{"type":"text","fontSize":10,"fill":"#555555","align":"right"},"encoding":{"x":{"datum":607},"y":{"datum":1214},"text":{"value":"最大テナント割合"}}},
  {"mark":{"type":"text","fontSize":19,"fontWeight":"bold","fill":"#333333","align":"right","baseline":"alphabetic","font":"Liberation Sans, Noto Sans CJK JP"},"encoding":{"x":{"datum":661},"y":{"datum":1221},"text":{"value":"14.7"}}},
  {"mark":{"type":"text","fontSize":10,"fill":"#333333","align":"left","baseline":"alphabetic"},"encoding":{"x":{"datum":662},"y":{"datum":1221},"text":{"value":"%"}}},
  {"mark":{"type":"text","fontSize":10,"fill":"#555555","align":"right"},"encoding":{"x":{"datum":922},"y":{"datum":1214},"text":{"value":"最大テナント割合"}}},
  {"mark":{"type":"text","fontSize":19,"fontWeight":"bold","fill":"#333333","align":"right","baseline":"alphabetic","font":"Liberation Sans, Noto Sans CJK JP"},"encoding":{"x":{"datum":977},"y":{"datum":1221},"text":{"value":"13.9"}}},
  {"mark":{"type":"text","fontSize":10,"fill":"#333333","align":"left","baseline":"alphabetic"},"encoding":{"x":{"datum":978},"y":{"datum":1221},"text":{"value":"%"}}},
  {"mark":{"type":"rule","stroke":"#222222","strokeWidth":1},"encoding":{"x":{"datum":315},"x2":{"datum":315},"y":{"datum":1062},"y2":{"datum":1080}}},
  {"mark":{"type":"rule","stroke":"#222222","strokeWidth":1},"encoding":{"x":{"datum":614},"x2":{"datum":614},"y":{"datum":1062},"y2":{"datum":1080}}},
  {"mark":{"type":"rule","stroke":"#222222","strokeWidth":1},"encoding":{"x":{"datum":914},"x2":{"datum":914},"y":{"datum":1062},"y2":{"datum":1080}}},
  {"mark":{"type":"rule","stroke":"#222222","strokeWidth":1},"encoding":{"x":{"datum":312},"x2":{"datum":373},"y":{"datum":1109},"y2":{"datum":1109}}},
  {"mark":{"type":"rule","stroke":"#222222","strokeWidth":1},"encoding":{"x":{"datum":373},"x2":{"datum":373},"y":{"datum":1109},"y2":{"datum":1202}}},
  {"mark":{"type":"rule","stroke":"#222222","strokeWidth":1},"encoding":{"x":{"datum":615},"x2":{"datum":674},"y":{"datum":1109},"y2":{"datum":1109}}},
  {"mark":{"type":"rule","stroke":"#222222","strokeWidth":1},"encoding":{"x":{"datum":674},"x2":{"datum":674},"y":{"datum":1109},"y2":{"datum":1201}}},
  {"mark":{"type":"rule","stroke":"#222222","strokeWidth":1},"encoding":{"x":{"datum":915},"x2":{"datum":973},"y":{"datum":1109},"y2":{"datum":1109}}},
  {"mark":{"type":"rule","stroke":"#222222","strokeWidth":1},"encoding":{"x":{"datum":973},"x2":{"datum":973},"y":{"datum":1109},"y2":{"datum":1201}}}
 ]}
]
}
